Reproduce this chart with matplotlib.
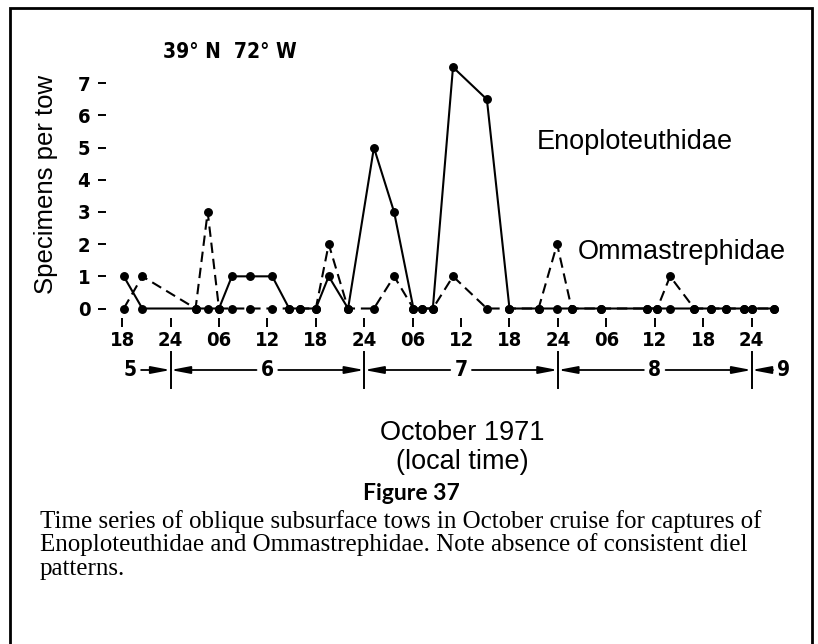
import matplotlib
matplotlib.use("Agg")
import matplotlib.pyplot as plt
from matplotlib import transforms
from matplotlib.patches import Rectangle

# Tow times in hours after 00:00 on 5 October 1971 (local time)
tow_hours = [18.2, 20.5, 27.1, 28.6, 30.0, 31.6, 33.8, 36.6, 38.7, 40.0,
             42.0, 43.6, 46.0, 49.2, 51.7, 54.1, 55.2, 56.5, 59.0, 63.2,
             66.0, 69.6, 71.9, 73.7, 77.3, 83.0, 84.3, 85.9, 88.9, 91.0,
             92.8, 95.1, 96.1, 98.8]

# Specimens per tow
enoploteuthidae = [1, 0, 0, 0, 0, 1, 1, 1, 0, 0,
                   0, 1, 0, 5, 3, 0, 0, 0, 7.5, 6.5,
                   0, 0, 0, 0, 0, 0, 0, 0, 0, 0,
                   0, 0, 0, 0]
ommastrephidae = [0, 1, 0, 3, 0, 0, 0, 0, 0, 0,
                  0, 2, 0, 0, 1, 0, 0, 0, 1, 0,
                  0, 0, 2, 0, 0, 0, 0, 1, 0, 0,
                  0, 0, 0, 0]

tick_hours = [18, 24, 30, 36, 42, 48, 54, 60, 66, 72, 78, 84, 90, 96]
tick_labels = ["18", "24", "06", "12", "18", "24", "06", "12",
               "18", "24", "06", "12", "18", "24"]
y_ticks = [0, 1, 2, 3, 4, 5, 6, 7]

day_bounds = [24, 48, 72, 96]
day_labels = ["5", "6", "7", "8", "9"]
day_label_hours = [19, 36, 60, 84, 100]

caption_lines = [
    "Time series of oblique subsurface tows in October cruise for captures of",
    "Enoploteuthidae and Ommastrephidae. Note absence of consistent diel",
    "patterns.",
]

W, H = 818, 644
fig = plt.figure(figsize=(W / 100, H / 100), dpi=100)
fig.patch.set_facecolor("white")


def fx(px):
    return px / W


def fy(py):
    return 1 - py / H


LETTER = dict(family=["DejaVu Sans"], weight="bold", stretch="condensed")
SANS = ["Liberation Sans", "DejaVu Sans"]

ax = fig.add_axes([fx(106), fy(318), fx(800) - fx(106), fy(50) - fy(318)])
ax.set_xlim(16.0, 102.0)
ax.set_ylim(-0.295, 8.035)
for s in ax.spines.values():
    s.set_visible(False)

ax.plot(tow_hours, enoploteuthidae, color="black", lw=1.5, ls="-",
        marker="o", ms=5.4, mfc="black", mec="black", clip_on=False, zorder=3)
ax.plot(tow_hours, ommastrephidae, color="black", lw=1.5, ls=(0, (5.0, 2.8)),
        marker="o", ms=5.4, mfc="black", mec="black", clip_on=False, zorder=3)

ax.set_xticks(tick_hours)
ax.set_xticklabels(tick_labels)
ax.set_yticks(y_ticks)
ax.set_yticklabels([str(v) for v in y_ticks])
ax.tick_params(axis="x", direction="out", length=6.5, width=1.4, pad=2.5)
ax.tick_params(axis="y", direction="out", length=5.8, width=1.4, pad=5.5)
for lab in ax.get_xticklabels() + ax.get_yticklabels():
    lab.set_fontfamily(LETTER["family"])
    lab.set_fontweight("bold")
    lab.set_fontstretch("condensed")
    lab.set_fontsize(14.5)

fig.text(fx(46), fy(184), "Specimens per tow", family=SANS, fontsize=18.5,
         rotation=90, ha="center", va="center")

fig.text(fx(537), fy(142), "Enoploteuthidae", family=SANS, fontsize=19.5,
         ha="left", va="center")
fig.text(fx(578), fy(252), "Ommastrephidae", family=SANS, fontsize=19.5,
         ha="left", va="center")

fig.text(fx(163), fy(52), "39° N  72° W", fontsize=15, ha="left",
         va="center", **LETTER)

# Day-of-month row with arrows spanning each day
blend = transforms.blended_transform_factory(ax.transData, fig.transFigure)
row_y = fy(370)
gap = 1.35
for b in day_bounds:
    ax.plot([b, b], [fy(352), fy(388)], color="black", lw=1.4,
            transform=blend, clip_on=False)
arrow_kw = dict(arrowstyle="-|>,head_length=1.15,head_width=0.22",
                mutation_scale=10, lw=1.3, color="black",
                shrinkA=0, shrinkB=0)
for lab, c in zip(day_labels, day_label_hours):
    ax.text(c, row_y, lab, transform=blend, ha="center", va="center",
            fontsize=15, **LETTER)
    left = [b for b in day_bounds if b < c]
    right = [b for b in day_bounds if b > c]
    if left:
        ax.annotate("", xy=(left[-1], row_y), xytext=(c - gap, row_y),
                    xycoords=blend, textcoords=blend, arrowprops=arrow_kw,
                    annotation_clip=False)
    if right:
        ax.annotate("", xy=(right[0], row_y), xytext=(c + gap, row_y),
                    xycoords=blend, textcoords=blend, arrowprops=arrow_kw,
                    annotation_clip=False)

fig.text(fx(462), fy(433), "October 1971", family=SANS, fontsize=19.5,
         ha="center", va="center")
fig.text(fx(462), fy(462), "(local time)", family=SANS, fontsize=19.5,
         ha="center", va="center")

fig.text(fx(411), fy(494), "Figure 37", family=["Lato", "DejaVu Sans"],
         weight="bold", fontsize=16.5, ha="center", va="center")

for i, line in enumerate(caption_lines):
    fig.text(fx(40), fy(528 + 23.5 * i), line,
             family=["Liberation Serif", "DejaVu Serif"], fontsize=18,
             ha="left", va="baseline")

fig.add_artist(Rectangle((fx(10), fy(700)), fx(812) - fx(10), fy(8) - fy(700),
                         transform=fig.transFigure, fill=False, lw=2,
                         edgecolor="black", clip_on=False))

fig.savefig("out.png", dpi=100, facecolor="white")
